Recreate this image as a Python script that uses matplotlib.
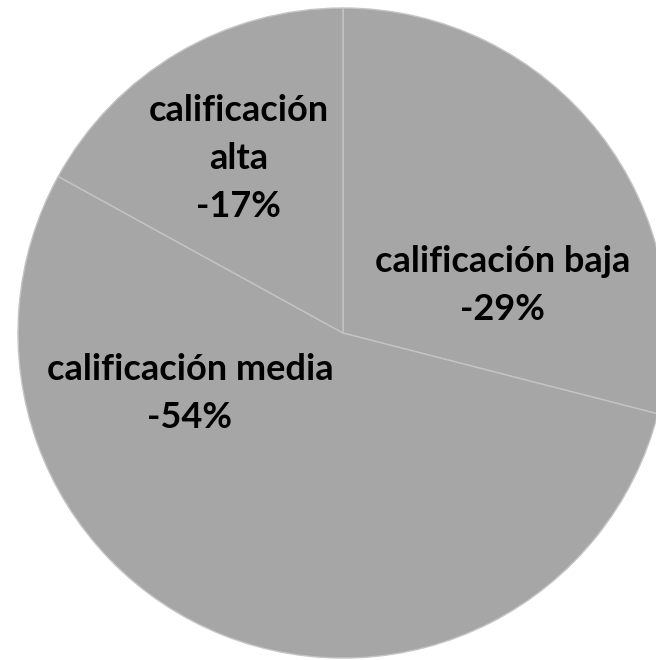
import numpy as np
import matplotlib.pyplot as plt

#------------------------------------------------------------------------------
# data (clockwise from 12 o'clock)
categorias = ['calificación baja', 'calificación media', 'calificación alta']
etiquetas  = ['calificación baja', 'calificación media', 'calificación\nalta']
valores    = [29, 54, 17]

# label anchors (axes data coords, last-line baseline) -- layout only
pos_etiq = [(0.492, 0.040), (-0.471, -0.292), (-0.322, 0.357)]

#------------------------------------------------------------------------------
plt.rcParams['font.family'] = ['Lato', 'DejaVu Sans']

fig = plt.figure(figsize=(6.56, 6.60), dpi=100)
ax = fig.add_axes([0, 0, 1, 1])

ax.pie(valores, startangle=90, counterclock=False, radius=1.0,
       colors=['#a6a6a6'] * len(valores),
       wedgeprops=dict(edgecolor='#c4c4c4', linewidth=1.0))

for txt, v, (x, y) in zip(etiquetas, valores, pos_etiq):
    ax.text(x, y, f'{txt}\n-{v}%', ha='center', va='baseline',
            fontsize=26, fontweight='bold', color='black', linespacing=1.55,
            multialignment='center')

ax.set_xlim(-1.0554, 0.963)
ax.set_ylim(-1.006, 1.0246)
ax.set_aspect('auto')
ax.axis('off')

fig.savefig('out.png', dpi=100)
